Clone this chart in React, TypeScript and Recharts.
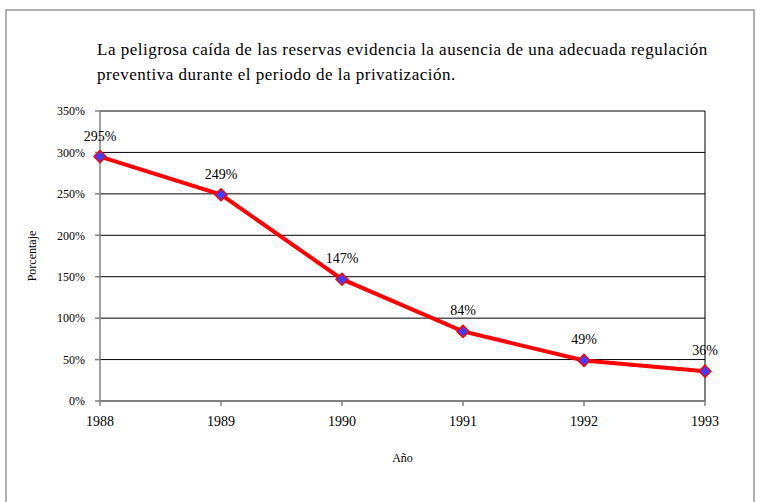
import React from 'react';
import {
  LineChart, Line, XAxis, YAxis, CartesianGrid, LabelList, Label, ReferenceLine,
} from 'recharts';

const YEARS = ['1988', '1989', '1990', '1991', '1992', '1993'];
const RESERVES = [295, 249, 147, 84, 49, 36];
const Y_TICKS = [0, 50, 100, 150, 200, 250, 300, 350];

const FONT = '"Liberation Serif", "DejaVu Serif", serif';

const data = YEARS.map((year, i) => ({ year, value: RESERVES[i] }));

function Diamond(props: any) {
  const { cx, cy, index } = props;
  if (cx == null || cy == null) return <g key={index} />;
  const r = 6;
  return (
    <polygon
      key={index}
      points={`${cx},${cy - r} ${cx + r},${cy} ${cx},${cy + r} ${cx - r},${cy}`}
      fill="#3F3FFF"
      stroke="#FF0000"
      strokeWidth={1.5}
    />
  );
}

export default function App() {
  return (
    <div style={{ position: 'relative', width: 757, height: 502, background: '#fff', fontFamily: FONT }}>
      <style>{'body{margin:0}'}</style>
      <div
        style={{
          position: 'absolute', left: 5, top: 9, width: 750, height: 500,
          border: '2px solid #b0b0b0', borderBottom: 'none', boxSizing: 'border-box',
        }}
      />
      <div
        style={{
          position: 'absolute', left: 97, top: 37, width: 625,
          fontSize: 17, letterSpacing: 0.5, lineHeight: '25px', color: '#000',
        }}
      >
        La peligrosa caída de las reservas evidencia la ausencia de una adecuada regulación
        preventiva durante el periodo de la privatización.
      </div>
      <div style={{ position: 'absolute', left: 0, top: 0 }}>
        <LineChart
          width={757}
          height={502}
          data={data}
          margin={{ top: 111, right: 52, bottom: 71, left: 20 }}
        >
          <CartesianGrid vertical={false} stroke="#000" strokeWidth={1} />
          <ReferenceLine x="1993" stroke="#000" strokeWidth={1} />
          <XAxis
            dataKey="year"
            stroke="#808080"
            strokeWidth={1.5}
            tickSize={5}
            tickMargin={10}
            height={30}
            tick={{ fill: '#000', fontSize: 14, fontFamily: FONT }}
          >
            <Label
              value="Año"
              position="bottom"
              offset={22}
              style={{ fill: '#000', fontSize: 12, fontFamily: FONT }}
            />
          </XAxis>
          <YAxis
            domain={[0, 350]}
            ticks={Y_TICKS}
            width={80}
            stroke="#808080"
            strokeWidth={1.5}
            tickSize={5}
            tickMargin={10}
            tickFormatter={(v: number) => `${v}%`}
            tick={{ fill: '#000', fontSize: 12, fontFamily: FONT }}
          >
            <Label
              value="Porcentaje"
              angle={-90}
              position="insideLeft"
              offset={12}
              style={{ fill: '#000', fontSize: 12, fontFamily: FONT, textAnchor: 'middle' }}
            />
          </YAxis>
          <Line
            type="linear"
            dataKey="value"
            stroke="#FF0000"
            strokeWidth={4}
            dot={Diamond}
            activeDot={false}
            isAnimationActive={false}
          >
            <LabelList
              dataKey="value"
              position="top"
              offset={16}
              formatter={(v: any) => `${v}%`}
              style={{ fill: '#000', fontSize: 14, fontFamily: FONT }}
            />
          </Line>
        </LineChart>
      </div>
    </div>
  );
}
